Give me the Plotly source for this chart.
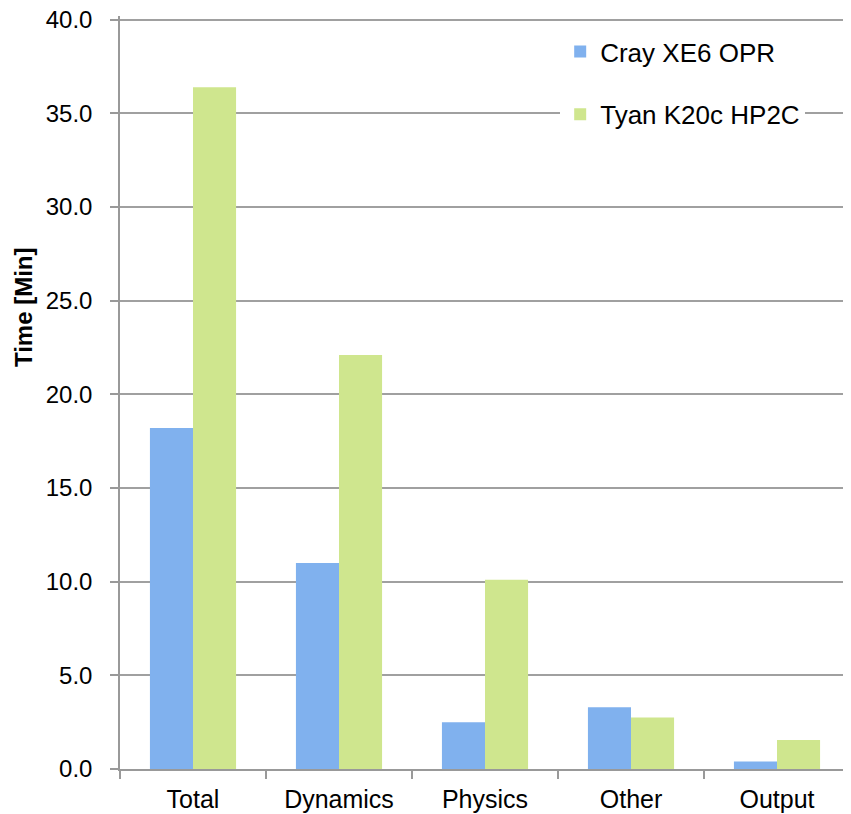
import plotly.graph_objects as go

categories = ["Total", "Dynamics", "Physics", "Other", "Output"]
cray_values = [18.2, 11.0, 2.5, 3.3, 0.4]
tyan_values = [36.4, 22.1, 10.1, 2.75, 1.55]
series_names = ["Cray XE6 OPR", "Tyan K20c HP2C"]
y_ticks = [0, 5, 10, 15, 20, 25, 30, 35, 40]
y_title = "Time [Min]"

FONT = "Liberation Sans, Arial, Helvetica, sans-serif"

fig = go.Figure()
fig.add_trace(go.Bar(
    x=categories, y=cray_values, name=series_names[0], legendgroup="a",
    marker=dict(color="#80b1ee", line=dict(width=0)),
))
fig.add_trace(go.Bar(
    x=categories, y=tyan_values, name=series_names[1], legendgroup="b",
    marker=dict(color="#cfe68e", line=dict(width=0)),
))

fig.update_layout(
    width=851, height=814,
    margin=dict(l=112, r=9, t=8, b=53, autoexpand=False),
    paper_bgcolor="white", plot_bgcolor="white",
    barmode="group", bargap=0.41, bargroupgap=0,
    font=dict(family=FONT, size=24, color="black"),
    showlegend=True,
    legend=dict(
        x=0.603, y=0.984, xanchor="left", yanchor="top",
        bgcolor="white", borderwidth=0,
        font=dict(size=26), tracegroupgap=26, traceorder="grouped",
        itemwidth=30,
    ),
    xaxis=dict(
        showline=True, linecolor="#999999", linewidth=1.5,
        ticks="outside", tickson="boundaries", ticklen=8, tickcolor="#999999", tickwidth=1.5,
        showgrid=False, tickfont=dict(size=25), ticklabelstandoff=7,
        automargin=False,
    ),
    yaxis=dict(
        range=[0, 40.2], tickvals=y_ticks, tickformat=".1f",
        showline=True, linecolor="#999999", linewidth=1.5,
        ticks="outside", ticklen=8, tickcolor="#999999", tickwidth=1.5,
        showgrid=True, gridcolor="#a0a0a0", gridwidth=1.5,
        zeroline=False, tickfont=dict(size=24), ticklabelstandoff=13,
        ticklabeloverflow="allow", automargin=False,
    ),
    annotations=[dict(
        text="<b>" + y_title + "</b>", textangle=-90,
        xref="paper", yref="paper", x=-0.132, y=0.613,
        xanchor="center", yanchor="middle", showarrow=False,
        font=dict(family=FONT, size=24, color="black"),
    )],
)

fig.write_html("out.html")
